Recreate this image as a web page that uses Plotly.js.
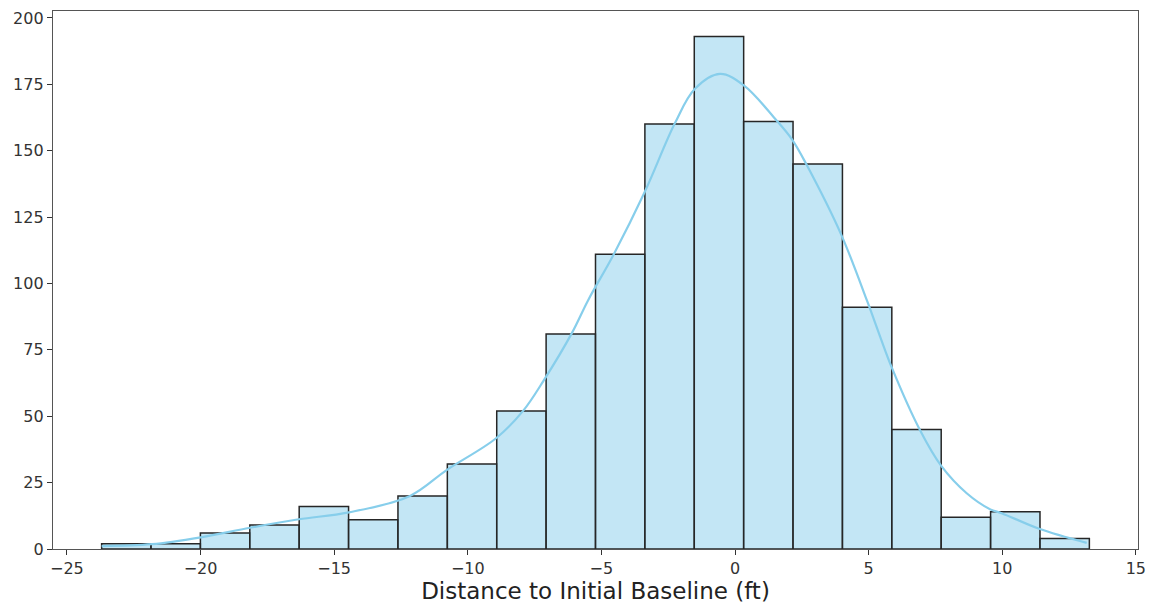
<!DOCTYPE html>
<html>
<head>
<meta charset="utf-8">
<script src="https://cdn.plot.ly/plotly-3.0.1.min.js"></script>
<style>html,body{margin:0;padding:0;background:#fff;}#chart{width:1149px;height:605px;}</style>
</head>
<body>
<div id="chart"></div>
<script>
// Histogram bins (distance to initial baseline, ft)
const binStart = -23.70;
const binWidth = 1.848;
const counts = [2, 2, 6, 9, 16, 11, 20, 32, 52, 81, 111, 160, 193, 161, 145, 91, 45, 12, 14, 4];

// KDE curve (x in ft, y in count scale)
const kdeX = [-23.70, -21.82, -19.99, -18.15, -16.32, -14.45, -12.16, -10.78, -8.94, -7.93, -7.15, -6.11, -5.49, -4.55, -3.37, -2.25, -1.50, -0.56, 0.34, 1.50, 2.15, 2.69, 3.97, 4.94, 5.43, 5.88, 6.92, 7.71, 8.67, 9.54, 10.00, 11.38, 13.16];
const kdeY = [1.1, 1.8, 4.4, 8.0, 11.2, 13.8, 20.0, 29.8, 41.7, 52.0, 63.6, 81.2, 93.8, 110.7, 134.6, 160.3, 173.3, 178.9, 174.5, 162.0, 154.0, 144.5, 118.5, 93.5, 80.0, 68.0, 44.8, 31.4, 21.0, 15.0, 13.4, 7.6, 2.3];

const xTitle = "Distance to Initial Baseline (ft)";

const centers = counts.map((c, i) => binStart + (i + 0.5) * binWidth);

const bars = {
  type: 'bar',
  x: centers,
  y: counts,
  width: counts.map(() => binWidth),
  marker: {color: 'rgba(135,206,235,0.5)', line: {color: '#262626', width: 1.5}},
  hoverinfo: 'x+y',
  showlegend: false
};
const kde = {
  type: 'scatter',
  mode: 'lines',
  x: kdeX,
  y: kdeY,
  line: {color: '#87CEEB', width: 2.2, shape: 'spline', smoothing: 1},
  showlegend: false
};

const font = {family: 'DejaVu Sans, sans-serif', size: 16, color: '#333'};
const layout = {
  width: 1149, height: 605,
  margin: {l: 53, r: 11, t: 11, b: 56},
  paper_bgcolor: '#fff', plot_bgcolor: '#fff',
  font: font,
  bargap: 0,
  xaxis: {
    range: [-25.52, 15.08], tick0: 0, dtick: 5,
    showgrid: false, zeroline: false,
    showline: true, mirror: true, linecolor: '#555', linewidth: 1.2,
    ticks: 'outside', ticklen: 5, tickwidth: 1, tickcolor: '#333',
    tickfont: font,
    title: {text: xTitle, font: {family: 'DejaVu Sans, sans-serif', size: 23, color: '#222'}, standoff: 5}
  },
  yaxis: {
    range: [0, 202.6], tick0: 0, dtick: 25,
    showgrid: false, zeroline: false,
    showline: true, mirror: true, linecolor: '#555', linewidth: 1.2,
    ticks: 'outside', ticklen: 5, tickwidth: 1, tickcolor: '#333',
    tickfont: font
  }
};
Plotly.newPlot('chart', [bars, kde], layout, {displayModeBar: false, staticPlot: true});
</script>
</body>
</html>
